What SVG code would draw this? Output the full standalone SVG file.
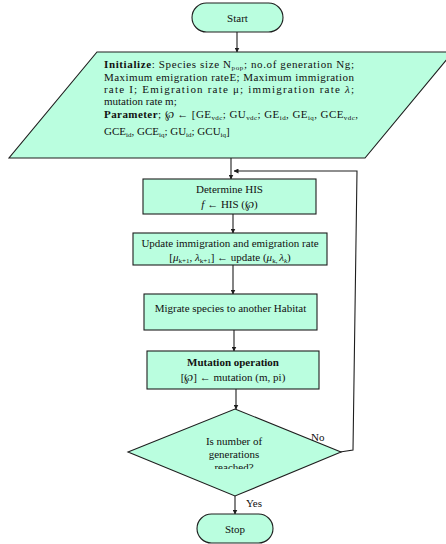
<svg xmlns="http://www.w3.org/2000/svg" width="446" height="544" viewBox="0 0 446 544" font-family="'Liberation Serif','DejaVu Serif',serif">
<style>
.s{fill:#bafedf;stroke:#1e1e1e;stroke-width:1.1}
text{font-family:"Liberation Serif","DejaVu Serif",serif;font-size:11px;fill:#111}
.c{text-anchor:middle}
.b{font-weight:bold}
.i{font-style:italic}
.sub{font-size:7px}
.ln{fill:none;stroke:#1e1e1e;stroke-width:1.1}
</style>
<defs>
<marker id="ah" viewBox="0 0 10 10" refX="9" refY="5" markerWidth="5" markerHeight="5" orient="auto" markerUnits="userSpaceOnUse">
<path d="M0,0 L10,5 L0,10 z" fill="#1e1e1e"/>
</marker>
<clipPath id="dclip"><rect x="120" y="400" width="230" height="69"/></clipPath>
</defs>
<g id="connectors">
<line class="ln" x1="237" y1="32" x2="237" y2="52" marker-end="url(#ah)"/>
<line class="ln" x1="231" y1="158" x2="231" y2="179" marker-end="url(#ah)"/>
<line class="ln" x1="233" y1="214" x2="233" y2="233" marker-end="url(#ah)"/>
<line class="ln" x1="233" y1="265" x2="233" y2="294" marker-end="url(#ah)"/>
<line class="ln" x1="234" y1="330" x2="234" y2="351" marker-end="url(#ah)"/>
<line class="ln" x1="236" y1="389" x2="236" y2="409" marker-end="url(#ah)"/>
<line class="ln" x1="235" y1="496" x2="235" y2="514" marker-end="url(#ah)"/>
<path class="ln" d="M340,452 L353,450 L357,171 L234,171" marker-end="url(#ah)"/>
<text x="311" y="441">No</text>
<text x="246" y="507">Yes</text>
</g>
<g id="start">
<rect class="s" x="192" y="3" width="91" height="29" rx="14.5"/>
<text class="c" x="237.5" y="22">Start</text>
</g>
<g id="initialize">
<polygon class="s" points="97,52 453,52 365,158 9,158"/>
<text x="104" y="68" textLength="250" lengthAdjust="spacing"><tspan class="b">Initialize</tspan>: Species size N<tspan class="sub" dy="1.5">pop</tspan><tspan dy="-1.5">; no.of generation Ng;</tspan></text>
<text x="104" y="81" textLength="250" lengthAdjust="spacing">Maximum emigration rateE; Maximum immigration</text>
<text x="104" y="93" textLength="250" lengthAdjust="spacing">rate I; Emigration rate μ; immigration rate <tspan class="i">λ</tspan>;</text>
<text x="104" y="105">mutation rate m;</text>
<text x="104" y="118" textLength="254" lengthAdjust="spacing"><tspan class="b">Parameter</tspan>; ℘ ← [GE<tspan class="sub" dy="1.5">vdc</tspan><tspan dy="-1.5">; GU</tspan><tspan class="sub" dy="1.5">vdc</tspan><tspan dy="-1.5">; GE</tspan><tspan class="sub" dy="1.5">id</tspan><tspan dy="-1.5">, GE</tspan><tspan class="sub" dy="1.5">iq</tspan><tspan dy="-1.5">, GCE</tspan><tspan class="sub" dy="1.5">vdc</tspan><tspan dy="-1.5">,</tspan></text>
<text x="104" y="135">GCE<tspan class="sub" dy="1.5">id</tspan><tspan dy="-1.5">, GCE</tspan><tspan class="sub" dy="1.5">iq</tspan><tspan dy="-1.5">; GU</tspan><tspan class="sub" dy="1.5">id</tspan><tspan dy="-1.5">; GCU</tspan><tspan class="sub" dy="1.5">iq</tspan><tspan dy="-1.5">]</tspan></text>
</g>
<g id="determine">
<rect class="s" x="143" y="179" width="173" height="35"/>
<text class="c" x="229.5" y="193">Determine HIS</text>
<text class="c" x="229.5" y="208"><tspan class="i">f</tspan> ← HIS (℘)</text>
</g>
<g id="update">
<rect class="s" x="133" y="233" width="194" height="32"/>
<text class="c" x="230" y="247">Update immigration  and emigration rate</text>
<text class="c" x="230" y="261">[<tspan class="i">μ</tspan><tspan class="sub" dy="1.5">k+1</tspan><tspan dy="-1.5">, </tspan><tspan class="i">λ</tspan><tspan class="sub" dy="1.5">k+1</tspan><tspan dy="-1.5">] ← update (</tspan><tspan class="i">μ</tspan><tspan class="sub" dy="1.5">k, </tspan><tspan class="i" dy="-1.5">λ</tspan><tspan class="sub i" dy="1.5">k</tspan><tspan dy="-1.5">)</tspan></text>
</g>
<g id="migrate">
<rect class="s" x="144" y="294" width="173" height="36"/>
<text class="c" x="230.5" y="312">Migrate species to another Habitat</text>
</g>
<g id="mutation">
<rect class="s" x="147" y="351" width="172" height="38"/>
<text class="c b" x="233" y="366">Mutation operation</text>
<text class="c" x="233" y="381">[℘] ← mutation (m, pi)</text>
</g>
<g id="decision">
<polygon class="s" points="235,409 341,452 235,496 128,452"/>
<text class="c" x="234" y="445">Is number of</text>
<text class="c" x="234" y="458">generations</text>
<text class="c" x="234" y="471" clip-path="url(#dclip)">reached?</text>
</g>
<g id="stop">
<rect class="s" x="197" y="514" width="76" height="29" rx="14.5"/>
<text class="c" x="235" y="533">Stop</text>
</g>
</svg>
